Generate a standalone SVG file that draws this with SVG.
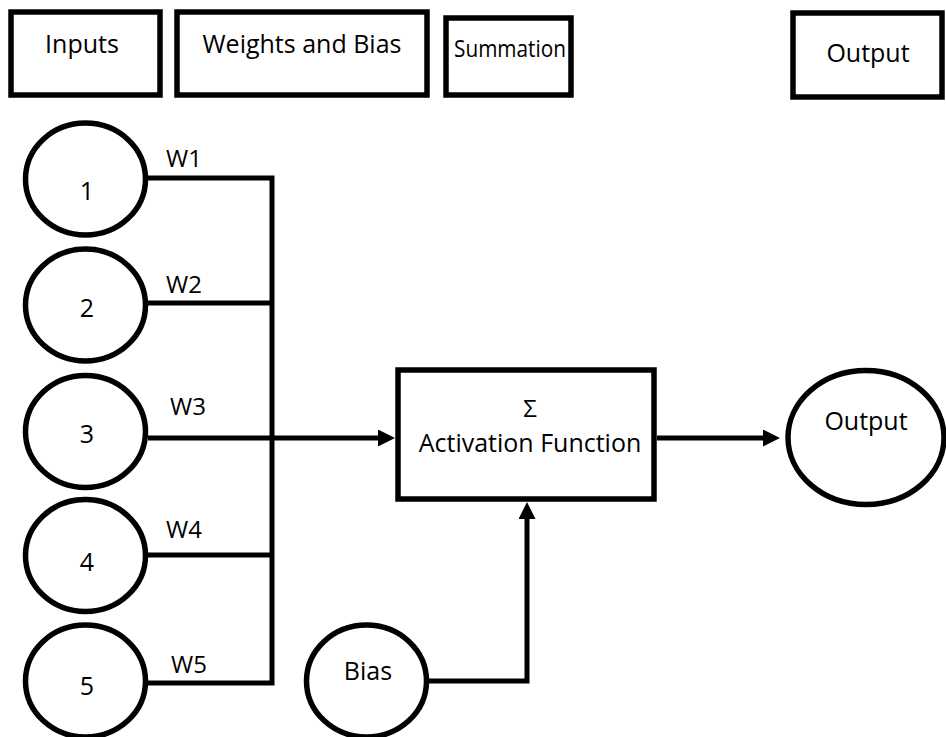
<svg xmlns="http://www.w3.org/2000/svg" width="946" height="737" viewBox="0 0 946 737">
<style>
.box{fill:#fff;stroke:#000;stroke-width:5.5}
.node{fill:#fff;stroke:#000;stroke-width:5.5}
.lbl{font-family:"Open Sans","Liberation Sans",sans-serif;font-size:25px;fill:#000}
.mid{text-anchor:middle}
.wl{font-family:"Open Sans","Liberation Sans",sans-serif;font-size:24px;fill:#000}
.edge{fill:none;stroke:#000;stroke-width:5}
</style>
<defs>
<marker id="arr" viewBox="0 0 17 17" refX="2" refY="8.5" markerWidth="17" markerHeight="17" markerUnits="userSpaceOnUse" orient="auto">
<path d="M0,0 L17,8.5 L0,17 z" fill="#000"/>
</marker>
</defs>
<rect width="946" height="737" fill="#fff"/>

<g id="hdr-inputs">
<rect class="box" x="11" y="12" width="149" height="83"/>
<text class="lbl mid" x="82" y="53">Inputs</text>
</g>
<g id="hdr-weights">
<rect class="box" x="177" y="12" width="250" height="83"/>
<text class="lbl mid" x="302" y="53">Weights and Bias</text>
</g>
<g id="hdr-summation">
<rect class="box" x="446" y="18" width="125" height="77"/>
<text class="lbl" x="454" y="57" style="font-size:24px" textLength="112" lengthAdjust="spacingAndGlyphs">Summation</text>
</g>
<g id="hdr-output">
<rect class="box" x="793" y="13" width="149" height="84"/>
<text class="lbl mid" x="868" y="62">Output</text>
</g>

<g id="connectors">
<path class="edge" d="M148,178 H272 V683 H148"/>
<path class="edge" d="M147,303 H272"/>
<path class="edge" d="M144,555 H272"/>
<path class="edge" d="M148,438 H380" marker-end="url(#arr)"/>
<path class="edge" d="M657,438 H765" marker-end="url(#arr)"/>
<path class="edge" d="M428,681 H527 V517" marker-end="url(#arr)"/>
</g>

<g id="lbl-w">
<text class="wl" x="166" y="167">W1</text>
<text class="wl" x="166" y="293">W2</text>
<text class="wl" x="170" y="415">W3</text>
<text class="wl" x="166" y="538">W4</text>
<text class="wl" x="171" y="673">W5</text>
</g>

<g id="input1">
<ellipse class="node" cx="85.5" cy="179" rx="60" ry="56"/>
<text class="lbl mid" x="87" y="200">1</text>
</g>
<g id="input2">
<ellipse class="node" cx="85.5" cy="305" rx="60" ry="56"/>
<text class="lbl mid" x="87" y="317">2</text>
</g>
<g id="input3">
<ellipse class="node" cx="85.5" cy="431.5" rx="60" ry="56"/>
<text class="lbl mid" x="87" y="443">3</text>
</g>
<g id="input4">
<ellipse class="node" cx="85.5" cy="555.5" rx="60" ry="56"/>
<text class="lbl mid" x="87" y="571">4</text>
</g>
<g id="input5">
<ellipse class="node" cx="85.5" cy="681" rx="60" ry="56"/>
<text class="lbl mid" x="87" y="695">5</text>
</g>

<g id="activation">
<rect class="box" x="398" y="370" width="256" height="129"/>
<text class="lbl mid" x="530" y="417" style="font-size:24px">Σ</text>
<text class="lbl mid" x="530" y="452">Activation Function</text>
</g>

<g id="bias">
<ellipse class="node" cx="366.5" cy="681" rx="60" ry="56"/>
<text class="lbl mid" x="368" y="680">Bias</text>
</g>

<g id="output">
<ellipse class="node" cx="866" cy="437.5" rx="78" ry="67"/>
<text class="lbl mid" x="866" y="430">Output</text>
</g>
</svg>
